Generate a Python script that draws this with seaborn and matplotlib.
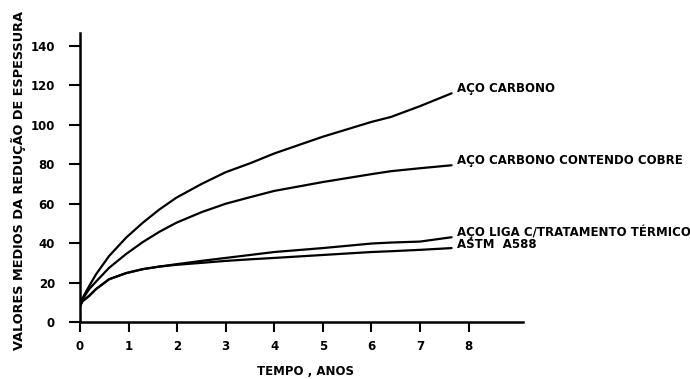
import matplotlib
matplotlib.use("Agg")
import matplotlib.pyplot as plt
import seaborn as sns
import pandas as pd

# Mean thickness loss over exposure time for four steel types
anos = [0, 0.05, 0.19, 0.33, 0.6, 0.95, 1.29, 1.63, 1.98, 2.5, 3, 3.5, 4, 5, 6, 6.4, 7, 7.65]
aco_carbono = [8, 12, 18.3, 24.2, 33.5, 42.8, 50.3, 57, 63, 70, 76, 80.5, 85.5, 94, 101.5, 104, 109.5, 116]
aco_cobre = [8, 11.5, 16.7, 20.5, 27.5, 34.5, 40.5, 45.7, 50.3, 55.7, 60, 63.3, 66.5, 71, 75, 76.5, 78, 79.5]
aco_liga = [8, 10.5, 13.3, 16.7, 21.7, 24.8, 26.8, 28.1, 29.3, 31, 32.5, 34, 35.5, 37.5, 39.8, 40.3, 40.8, 43]
astm_a588 = [8, 10.5, 13.3, 16.7, 21.7, 24.8, 26.8, 28.1, 29, 30, 31, 31.8, 32.5, 34, 35.5, 35.9, 36.6, 37.5]

nomes = ["AÇO CARBONO", "AÇO CARBONO CONTENDO COBRE",
         "AÇO LIGA C/TRATAMENTO TÉRMICO", "ASTM  A588"]
series = [aco_carbono, aco_cobre, aco_liga, astm_a588]
label_y = [118.5, 82, 46, 39.5]

x_ticks = list(range(0, 9))
y_ticks = list(range(0, 141, 20))

df = pd.concat(
    [pd.DataFrame({"ano": anos, "valor": v, "serie": n}) for n, v in zip(nomes, series)],
    ignore_index=True,
)

sns.set_style("ticks")
plt.rcParams["font.family"] = ["DejaVu Sans"]
plt.rcParams["font.weight"] = "bold"
plt.rcParams["text.color"] = "black"
plt.rcParams["axes.labelcolor"] = "black"
plt.rcParams["xtick.color"] = "black"
plt.rcParams["ytick.color"] = "black"

fig = plt.figure(figsize=(6.9, 3.79), dpi=100)
ax = fig.add_axes([80 / 690, 57 / 379, 443 / 690, 289 / 379])

sns.lineplot(data=df, x="ano", y="valor", units="serie", estimator=None,
             color="black", linewidth=1.6, sort=False, ax=ax, legend=False)

ax.set_xlim(0, 9.12)
ax.set_ylim(0, 146.6)
ax.set_xticks(x_ticks)
ax.set_yticks(y_ticks)
ax.set_xticklabels([str(t) for t in x_ticks], fontsize=8.5, fontweight="bold")
ax.set_yticklabels([str(t) for t in y_ticks], fontsize=8.5, fontweight="bold")
ax.tick_params(axis="y", length=8, width=1.5, pad=10)
ax.tick_params(axis="x", length=7, width=1.5, pad=6)

for side in ("top", "right"):
    ax.spines[side].set_visible(False)
for side in ("left", "bottom"):
    ax.spines[side].set_linewidth(1.8)
    ax.spines[side].set_color("black")

ax.set_xlabel("TEMPO , ANOS", fontsize=8.5, fontweight="bold", va="center")
ax.xaxis.set_label_coords(0.508, -0.17)
ax.set_ylabel("VALORES MEDIOS DA REDUÇÃO DE ESPESSURA", fontsize=9.3,
              fontweight="bold", va="center")
ax.yaxis.set_label_coords(-61 / 443, 0.49)

for nome, yl in zip(nomes, label_y):
    ax.text(anos[-1] + 0.12, yl, nome, fontsize=8.5, fontweight="bold",
            ha="left", va="center", clip_on=False)

fig.savefig("out.png", dpi=100, facecolor="white")
